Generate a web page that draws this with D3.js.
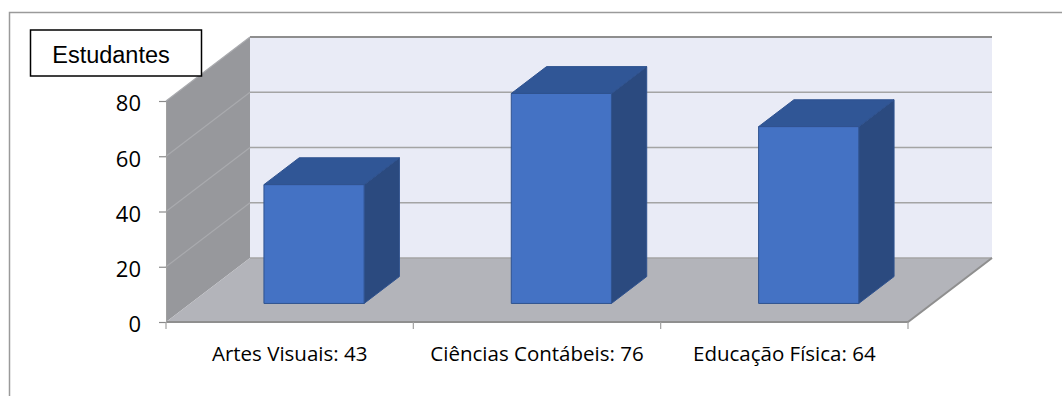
<!DOCTYPE html>
<html>
<head>
<meta charset="utf-8">
<script src="https://cdn.jsdelivr.net/npm/d3@7"></script>
<style>
  html, body { margin: 0; padding: 0; background: #fff; }
  svg { display: block; }
</style>
</head>
<body>
<svg id="chart" width="1062" height="396"></svg>
<script>
// Students per course
const categories = ["Artes Visuais", "Ciências Contábeis", "Educação Física"];
const students = [43, 76, 64];
const yTicks = [0, 20, 40, 60, 80];
const seriesName = "Estudantes";

const svg = d3.select("#chart");

// Front plane of the plot and the 3D depth offset
const front = { left: 166, right: 908, bottom: 322, top: 101 };
const DX = 84, DY = 64;          // shift from front plane to back wall
const Z0 = 0.29, Z1 = 0.71;      // bar depth span (fraction of floor depth)

const x = d3.scaleBand().domain(categories).range([front.left, front.right]).padding(0);
const y = d3.scaleLinear().domain([0, 80]).range([front.bottom, front.top]);

// project a point (pixel x on front plane, value, depth fraction)
const P = (px, v, z) => [px + z * DX, y(v) - z * DY];
const poly = pts => "M" + pts.map(p => p.join(",")).join("L") + "Z";

// outer frame (top and left edges)
svg.append("path")
  .attr("d", "M9.5,396 L9.5,12.5 L1062,12.5")
  .attr("fill", "none").attr("stroke", "#9a9a9a").attr("stroke-width", 1.5);

const walls = svg.append("g");
const x0 = front.left, x1 = front.right, vMax = 80;

// back wall
walls.append("path")
  .attr("d", poly([P(x0, 0, 1), P(x1, 0, 1), P(x1, vMax, 1), P(x0, vMax, 1)]))
  .attr("fill", "#e9ebf6");
// left wall
walls.append("path")
  .attr("d", poly([P(x0, 0, 0), P(x0, 0, 1), P(x0, vMax, 1), P(x0, vMax, 0)]))
  .attr("fill", "#97989c");
// floor
walls.append("path")
  .attr("d", poly([P(x0, 0, 0), P(x1, 0, 0), P(x1, 0, 1), P(x0, 0, 1)]))
  .attr("fill", "#b3b4ba");

// gridlines on back and left walls
yTicks.forEach(v => {
  walls.append("path")
    .attr("d", "M" + P(x0, v, 1).join(",") + "L" + P(x1, v, 1).join(","))
    .attr("stroke", v === vMax ? "#8e8e8e" : "#a4a4a4")
    .attr("stroke-width", v === vMax ? 2 : 1.5).attr("fill", "none");
  if (v > 0) {
    walls.append("path")
      .attr("d", "M" + P(x0, v, 0).join(",") + "L" + P(x0, v, 1).join(","))
      .attr("stroke", "#a9aaae").attr("stroke-width", 1.2).attr("fill", "none");
  }
});

// floor front and right edges
walls.append("path")
  .attr("d", "M" + P(x0, 0, 0).join(",") + "L" + P(x1, 0, 0).join(",") + "L" + P(x1, 0, 1).join(","))
  .attr("stroke", "#8f8f8f").attr("stroke-width", 2).attr("fill", "none");

// y axis
const yAxis = svg.append("g")
  .attr("transform", `translate(${front.left},0)`)
  .call(d3.axisLeft(y).tickValues(yTicks).tickSize(7).tickPadding(18).tickSizeOuter(0));
yAxis.select(".domain").attr("stroke", "#a0a0a0").attr("stroke-width", 1);
yAxis.selectAll(".tick line").attr("stroke", "#8a8a8a").attr("stroke-width", 1.2);
yAxis.selectAll(".tick text")
  .attr("font-family", "'Open Sans', sans-serif").attr("font-size", 22)
  .attr("fill", "#000").attr("dy", "0.45em");

// category boundary ticks below the floor
const bounds = categories.map(c => x(c)).concat([x(categories[categories.length - 1]) + x.bandwidth()]);
svg.append("g").selectAll("line").data(bounds).join("line")
  .attr("x1", d => d).attr("x2", d => d)
  .attr("y1", front.bottom).attr("y2", front.bottom + 7)
  .attr("stroke", "#a0a0a0").attr("stroke-width", 1.2);

// category labels
svg.append("g").selectAll("text").data(categories).join("text")
  .attr("x", d => x(d) + x.bandwidth() / 2)
  .attr("y", 361)
  .attr("text-anchor", "middle")
  .attr("font-family", "'Open Sans', sans-serif").attr("font-size", 20.5)
  .attr("fill", "#000")
  .text((d, i) => `${d}: ${students[i]}`);

// 3D bars
const barW = x.bandwidth() * 0.405;
const bars = svg.append("g");
categories.forEach((c, i) => {
  const v = students[i];
  const bx = x(c) + (x.bandwidth() - barW) / 2;
  const g = bars.append("g").attr("stroke", "#2f528f").attr("stroke-width", 1).attr("stroke-linejoin", "round");
  // side face
  g.append("path")
    .attr("d", poly([P(bx + barW, 0, Z0), P(bx + barW, 0, Z1), P(bx + barW, v, Z1), P(bx + barW, v, Z0)]))
    .attr("fill", "#2b4a7f");
  // top face
  g.append("path")
    .attr("d", poly([P(bx, v, Z0), P(bx + barW, v, Z0), P(bx + barW, v, Z1), P(bx, v, Z1)]))
    .attr("fill", "#305696");
  // front face
  g.append("path")
    .attr("d", poly([P(bx, 0, Z0), P(bx + barW, 0, Z0), P(bx + barW, v, Z0), P(bx, v, Z0)]))
    .attr("fill", "#4472c4");
});

// series legend box
const lg = svg.append("g");
lg.append("rect")
  .attr("x", 30.5).attr("y", 30).attr("width", 171).attr("height", 46)
  .attr("fill", "#fff").attr("stroke", "#000").attr("stroke-width", 1.5);
lg.append("text")
  .attr("x", 111).attr("y", 63)
  .attr("text-anchor", "middle")
  .attr("font-family", "'Liberation Sans', Arial, sans-serif").attr("font-size", 23.5)
  .attr("fill", "#000")
  .text(seriesName);
</script>
</body>
</html>
